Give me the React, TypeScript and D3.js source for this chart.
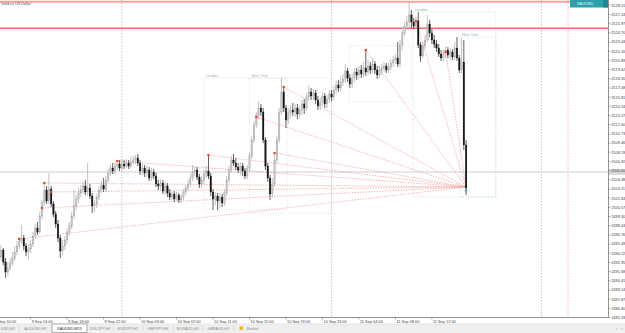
import React from "react";
import * as d3 from "d3";

const firstOpen = 2493.7;
const closes = [
  2494.66, 2493.01, 2491.62, 2492.18, 2492.87, 2493.56, 2494.39, 2495.22, 2495.91, 2496.32,
  2495.22, 2494.39, 2494.8, 2495.49, 2496.6, 2497.71, 2497.15, 2499.37, 2501.17, 2502.96,
  2501.44, 2503.1, 2501.03, 2499.64, 2498.26, 2496.32, 2494.53, 2495.22, 2496.05, 2497.15,
  2497.98, 2499.37, 2500.75, 2501.72, 2502.55, 2502.96, 2503.52, 2502.69, 2503.24, 2502.13,
  2500.75, 2501.03, 2501.99, 2502.96, 2503.65, 2503.1, 2504.35, 2505.31, 2506.01, 2505.59,
  2506.28, 2506.56, 2506.01, 2506.56, 2506.28, 2506.7, 2506.28, 2506.84, 2507.11, 2507.39,
  2506.7, 2505.59, 2506.01, 2505.31, 2505.73, 2504.62, 2505.45, 2504.9, 2503.79, 2503.52,
  2503.93, 2502.82, 2503.52, 2502.55, 2501.99, 2502.41, 2501.72, 2502.27, 2501.58, 2501.99,
  2502.69, 2503.24, 2503.79, 2504.62, 2505.45, 2505.73, 2504.76, 2503.79, 2504.35, 2505.18,
  2505.59, 2504.9, 2502.69, 2501.72, 2502.13, 2501.44, 2501.99, 2501.17, 2502.55, 2504.35,
  2505.73, 2507.11, 2506.7, 2506.14, 2505.73, 2506.28, 2505.59, 2504.9, 2506.01, 2507.67,
  2509.88, 2511.95, 2513.34, 2514.3, 2513.75, 2509.88, 2506.28, 2504.62, 2502.41, 2503.79,
  2507.11, 2509.88, 2513.75, 2516.52, 2514.3, 2512.64, 2513.61, 2514.03, 2513.75, 2514.3,
  2513.47, 2514.03, 2514.86, 2514.3, 2515.82, 2516.52, 2515.96, 2516.38, 2515.41, 2514.58,
  2515.13, 2515.96, 2514.86, 2515.55, 2516.24, 2515.82, 2516.79, 2517.48, 2517.07, 2517.9,
  2518.31, 2519.42, 2518.45, 2517.62, 2518.45, 2519.28, 2518.87, 2519.56, 2519.01, 2519.84,
  2519.28, 2520.11, 2519.56, 2520.39, 2519.56, 2518.87, 2519.56, 2519.84, 2520.11, 2519.56,
  2519.97, 2520.53, 2520.94, 2521.22, 2520.39, 2523.02, 2524.68, 2525.64, 2526.2, 2527.17,
  2526.2, 2525.64, 2526.34, 2523.02, 2521.5, 2522.88, 2523.71, 2525.92, 2524.68, 2523.71,
  2523.15, 2522.6, 2521.77, 2521.22, 2521.91, 2522.32, 2521.63, 2522.05, 2521.36, 2522.6,
  2521.22, 2519.56, 2520.67, 2509.19, 2503.24,
];
const highs = [
  2495.36, 2494.94, 2493.56, 2493.01, 2493.56, 2494.39, 2495.22, 2495.91, 2496.46, 2498.12,
  2496.74, 2495.63, 2495.36, 2496.05, 2497.15, 2498.26, 2498.54, 2499.92, 2501.58, 2503.93,
  2503.52, 2505.31, 2503.52, 2501.44, 2500.06, 2498.81, 2496.74, 2496.05, 2496.6, 2497.71,
  2498.54, 2499.92, 2502.96, 2502.27, 2503.24, 2503.65, 2504.07, 2504.35, 2506.7, 2503.79,
  2502.55, 2501.58, 2502.41, 2503.52, 2504.21, 2504.62, 2504.9, 2505.87, 2506.56, 2506.7,
  2506.84, 2506.97, 2507.11, 2507.25, 2507.11, 2507.25, 2507.11, 2507.53, 2507.67, 2507.8,
  2507.94, 2507.11, 2506.56, 2506.42, 2506.28, 2506.14, 2506.01, 2505.87, 2505.31, 2504.35,
  2504.48, 2504.35, 2504.07, 2503.93, 2503.1, 2502.82, 2502.82, 2502.69, 2502.55, 2502.41,
  2503.1, 2503.65, 2504.35, 2505.18, 2506.42, 2506.28, 2506.14, 2505.18, 2504.9, 2505.73,
  2506.28, 2507.8, 2505.31, 2503.1, 2502.69, 2502.55, 2502.55, 2502.41, 2502.96, 2504.9,
  2506.28, 2507.67, 2507.94, 2507.39, 2506.7, 2506.84, 2506.7, 2506.01, 2506.42, 2508.22,
  2510.43, 2512.51, 2513.75, 2515.27, 2514.86, 2514.3, 2510.29, 2506.7, 2505.04, 2504.62,
  2508.08, 2510.43, 2514.3, 2518.45, 2517.21, 2514.72, 2514.3, 2514.72, 2515.0, 2514.86,
  2514.86, 2514.58, 2515.41, 2515.55, 2516.38, 2517.48, 2517.07, 2516.93, 2516.79, 2515.96,
  2515.69, 2516.52, 2516.38, 2516.1, 2516.79, 2516.79, 2517.35, 2518.04, 2518.18, 2518.73,
  2519.01, 2520.39, 2519.84, 2519.01, 2519.01, 2519.84, 2519.84, 2520.11, 2520.25, 2520.67,
  2522.32, 2520.94, 2520.67, 2521.22, 2520.8, 2520.11, 2520.11, 2520.39, 2520.67, 2520.53,
  2520.53, 2521.08, 2521.5, 2521.77, 2523.43, 2523.71, 2525.09, 2526.2, 2527.03, 2528.96,
  2527.86, 2526.75, 2526.89, 2527.58, 2523.43, 2523.43, 2524.4, 2527.17, 2526.47, 2525.23,
  2524.4, 2523.71, 2523.15, 2522.32, 2522.32, 2522.88, 2522.74, 2522.6, 2522.46, 2523.43,
  2524.12, 2521.63, 2523.98, 2523.71, 2509.88,
];
const lows = [
  2493.28, 2492.59, 2490.79, 2491.07, 2491.76, 2492.45, 2493.14, 2493.97, 2494.8, 2495.49,
  2494.66, 2493.84, 2493.28, 2494.25, 2495.08, 2496.19, 2496.74, 2496.88, 2498.95, 2500.75,
  2501.03, 2501.03, 2500.61, 2499.23, 2497.71, 2495.77, 2493.56, 2493.97, 2494.66, 2495.49,
  2496.6, 2497.57, 2498.95, 2500.2, 2501.17, 2501.99, 2502.41, 2502.27, 2502.13, 2501.72,
  2499.78, 2499.92, 2500.47, 2501.58, 2502.55, 2502.69, 2502.69, 2503.93, 2504.9, 2505.18,
  2505.18, 2505.73, 2505.59, 2505.59, 2505.87, 2506.01, 2505.87, 2506.01, 2506.42, 2506.56,
  2506.28, 2505.04, 2505.04, 2504.76, 2504.9, 2504.21, 2504.21, 2504.48, 2503.38, 2502.96,
  2502.96, 2502.41, 2502.27, 2501.99, 2501.58, 2501.58, 2501.3, 2501.44, 2501.17, 2501.17,
  2501.58, 2502.27, 2502.82, 2503.38, 2504.21, 2504.9, 2504.35, 2503.24, 2503.24, 2503.79,
  2504.62, 2504.48, 2502.13, 2500.2, 2500.89, 2500.2, 2500.47, 2500.61, 2500.75, 2502.13,
  2503.93, 2505.31, 2506.28, 2505.73, 2505.31, 2505.04, 2504.9, 2504.48, 2504.48, 2505.59,
  2507.25, 2509.46, 2511.54, 2512.78, 2513.2, 2509.46, 2505.73, 2504.07, 2501.58, 2501.99,
  2503.38, 2506.7, 2509.46, 2513.34, 2513.75, 2511.54, 2512.09, 2512.92, 2513.2, 2513.06,
  2512.78, 2512.92, 2513.34, 2513.47, 2513.89, 2515.41, 2515.41, 2515.41, 2514.86, 2514.03,
  2514.03, 2514.58, 2514.3, 2514.3, 2515.0, 2515.27, 2515.41, 2516.24, 2516.52, 2516.65,
  2517.35, 2517.76, 2517.9, 2517.07, 2517.07, 2517.9, 2518.18, 2518.31, 2518.45, 2518.59,
  2518.73, 2518.87, 2519.01, 2519.14, 2519.01, 2518.31, 2518.45, 2518.87, 2519.28, 2519.14,
  2519.14, 2519.56, 2519.97, 2520.39, 2519.97, 2519.97, 2522.32, 2524.26, 2525.09, 2525.37,
  2525.37, 2525.23, 2525.37, 2522.6, 2520.67, 2521.22, 2522.46, 2523.43, 2524.12, 2523.15,
  2522.6, 2522.05, 2521.36, 2520.8, 2520.8, 2521.22, 2521.22, 2520.94, 2520.94, 2520.94,
  2520.8, 2519.14, 2519.01, 2508.49, 2502.27,
];

const priceTicks = [
  2528.51, 2527.24, 2525.97, 2524.7, 2523.43, 2522.16, 2520.89, 2519.62, 2518.35, 2517.08,
  2515.81, 2514.54, 2513.27, 2512.0, 2510.73, 2509.46, 2508.19, 2506.92, 2505.65, 2504.38,
  2503.11, 2501.84, 2500.57, 2499.3, 2498.03, 2496.76, 2495.49, 2494.22, 2492.95, 2491.68,
  2490.41, 2489.14, 2487.87, 2486.6, 2485.33,
];
const timeLabels = [
  "9 Sep 10:00", "9 Sep 14:00", "9 Sep 18:00", "9 Sep 22:00", "10 Sep 03:00", "10 Sep 07:00",
  "10 Sep 11:00", "10 Sep 15:00", "10 Sep 19:00", "10 Sep 23:00", "11 Sep 04:00", "11 Sep 08:00",
  "11 Sep 12:00",
];
const timeLabelBars = [-3, 13, 29, 45, 61, 77, 93, 109, 125, 141, 157, 173, 189];

const swingBars = [8, 18, 19, 22, 51, 91, 112, 120, 124, 160, 182, 195];
const swingPrices = [
  2496.19, 2500.47, 2503.93, 2502.69, 2506.97, 2507.8, 2513.06, 2508.08, 2517.21, 2522.32,
  2526.34, 2522.05,
];
const fanTargetBar = 204;
const fanTargetPrice = 2503.38;

const sessionNames = ["London", "New York", "London", "New York"];
const sessionStartBars = [89, 109, 180.7, 201.3];
const sessionEndBars = [125.5, 145, 217, 217];
const sessionHighs = [2518.45, 2518.45, 2527.58, 2524.12];
const sessionLows = [2500.2, 2499.78, 2501.99, 2501.99];
const asiaBoxBars = [152.6, 179.8];
const asiaBoxPrices = [2522.88, 2515.13];

const separatorBars = [53, 145, 237];
const redVLineBar = 248.7;
const redLevels = [2529.0, 2525.33];
const greyLevel = 2505.45;

const tabNames = ["USD,H1", "AUDUSD,H1", "XAUUSD,M15", "USDJPY,H4", "EURJPY,H1", "GBPJPY,H4", "EURAUD,H1", "GBPAUD,H1"];
const activeTab = "XAUUSD,M15";
const symbolLabel = "XAUUSD";
const chartTitle = "Gold vs US Dollar";

// layout
const W = 625;
const H = 333;
const PR = 608;
const PB = 317;
const FONT = "'Liberation Sans', Arial, sans-serif";
const tabEdges = [-3, 19, 52, 87, 113, 143, 173, 203, 234];

export default function App() {
  const x = d3.scaleLinear().domain([0, 204]).range([1, 1 + 204 * 2.28]);
  const y = d3.scaleLinear().domain([2485.4, 2529.24]).range([PB, 0]);
  const opens = closes.map((c, i) => (i === 0 ? firstOpen : closes[i - 1]));
  const bodyW = 1.5;
  const fmt = d3.format(".2f");

  return (
    <div style={{ position: "fixed", left: 0, top: 0, width: W, height: H, background: "#fff" }}>
      <svg width={W} height={H} style={{ display: "block", fontFamily: FONT }}>
        <defs>
          <clipPath id="plot">
            <rect x={0} y={0} width={PR} height={PB} />
          </clipPath>
        </defs>
        <rect x={0} y={0} width={W} height={H} fill="#fff" />
        <g clipPath="url(#plot)">
          {separatorBars.map((b, i) => (
            <line key={"sep" + i} x1={x(b)} x2={x(b)} y1={0} y2={PB} stroke="#b8b8b8" strokeWidth={0.8} strokeDasharray="1.5,1.5" />
          ))}
          <line x1={x(redVLineBar)} x2={x(redVLineBar)} y1={0} y2={PB} stroke="#f2a8a8" strokeWidth={0.8} strokeDasharray="1.5,1.5" />
          <rect
            x={x(asiaBoxBars[0])}
            y={y(asiaBoxPrices[0])}
            width={x(asiaBoxBars[1]) - x(asiaBoxBars[0])}
            height={y(asiaBoxPrices[1]) - y(asiaBoxPrices[0])}
            fill="none"
            stroke="#dedede"
            strokeWidth={0.7}
            strokeDasharray="1,1.5"
          />
          {sessionNames.map((n, i) => {
            const x0 = x(sessionStartBars[i]);
            const x1 = x(sessionEndBars[i]);
            const y0 = y(sessionHighs[i]);
            const y1 = y(sessionLows[i]);
            const lon = n === "London";
            const col = i < 2 ? "#d4d4d4" : lon ? "#bcdcbc" : "#bcd6ea";
            return (
              <g key={"ses" + i}>
                <rect x={x0} y={y0} width={x1 - x0} height={y1 - y0} fill="none" stroke={col} strokeWidth={0.7} strokeDasharray="1,1.5" />
                <text x={x0 + 2} y={y0 - 1.5} fontSize={3.8} fill={i < 2 ? "#b5b5b5" : lon ? "#8cc78c" : "#8fb8d8"}>
                  {n}
                </text>
              </g>
            );
          })}
          <line x1={0} x2={PR} y1={y(greyLevel)} y2={y(greyLevel)} stroke="#d0d0d0" strokeWidth={1} />
          {redLevels.map((p, i) => (
            <line key={"rl" + i} x1={0} x2={PR} y1={y(p)} y2={y(p)} stroke={i === 0 ? "#f7a0a0" : "#f26a6a"} strokeWidth={i === 0 ? 2 : 1.6} />
          ))}
          {swingBars.map((b, i) => (
            <line
              key={"fan" + i}
              x1={x(b)}
              y1={y(swingPrices[i])}
              x2={x(fanTargetBar)}
              y2={y(fanTargetPrice)}
              stroke="#f29a9a"
              strokeWidth={0.7}
              strokeDasharray="1.5,1.2"
            />
          ))}
          {closes.map((c, i) => {
            const o = opens[i];
            const bull = c >= o;
            const hi = Math.max(highs[i], o, c);
            const lo = Math.min(lows[i], o, c);
            const cx = x(i);
            const top = y(Math.max(o, c));
            const bh = Math.max(0.8, y(Math.min(o, c)) - top);
            return (
              <g key={"c" + i}>
                <line x1={cx} x2={cx} y1={y(hi)} y2={y(lo)} stroke={bull ? "#a8a8a8" : "#1c1c1c"} strokeWidth={0.7} />
                <rect x={cx - bodyW / 2} y={top} width={bodyW} height={bh} fill={bull ? "#c6c6c6" : "#141414"} stroke={bull ? "#9e9e9e" : "#141414"} strokeWidth={0.3} />
              </g>
            );
          })}
          {swingBars.map((b, i) => (
            <circle key={"dot" + i} cx={x(b)} cy={y(swingPrices[i])} r={1.3} fill="#f0452a" />
          ))}
          <rect x={x(fanTargetBar) - 1.2} y={y(fanTargetPrice) + 2.5} width={2.2} height={2.2} fill="#3aa3c4" />
        </g>

        <text x={1} y={4.5} fontSize={3.8} fill="#555">
          {chartTitle}
        </text>

        <rect x={570} y={0} width={38} height={7.5} fill="#2aa0a8" />
        <rect x={603} y={0} width={5} height={7.5} fill="#1f8990" />
        <text x={585} y={5.3} fontSize={4} fill="#e8f6f6" textAnchor="middle">
          {symbolLabel}
        </text>

        <line x1={PR + 0.5} x2={PR + 0.5} y1={0} y2={PB} stroke="#777" strokeWidth={0.8} />
        <line x1={0} x2={PR + 0.5} y1={PB + 0.5} y2={PB + 0.5} stroke="#777" strokeWidth={0.8} />

        <rect x={PR + 1} y={y(greyLevel) - 2.8} width={W - PR - 1} height={5.6} fill="#d6d6d6" />
        {priceTicks.map((p, i) => (
          <g key={"pt" + i}>
            <line x1={PR} x2={PR + 2.5} y1={y(p)} y2={y(p)} stroke="#777" strokeWidth={0.6} />
            <text x={PR + 3.2} y={y(p) + 1.4} fontSize={3.9} fill="#444">
              {fmt(p)}
            </text>
          </g>
        ))}

        {timeLabels.map((t, i) => {
          const tx = x(timeLabelBars[i]);
          return (
            <g key={"tl" + i}>
              <line x1={tx} x2={tx} y1={PB} y2={PB + 2.5} stroke="#777" strokeWidth={0.6} />
              <text x={tx + 1} y={PB + 5.8} fontSize={3.9} fill="#444">
                {t}
              </text>
            </g>
          );
        })}

        <rect x={0} y={324} width={W} height={H - 324} fill="#efefef" />
        <line x1={0} x2={W} y1={324} y2={324} stroke="#d8d8d8" strokeWidth={0.6} />
        {tabNames.map((n, i) => {
          const left = tabEdges[i];
          const right = tabEdges[i + 1];
          const active = n === activeTab;
          return (
            <g key={"tt" + i}>
              {active ? <rect x={left} y={324} width={right - left} height={8.6} fill="#fff" stroke="#7a7a7a" strokeWidth={0.6} /> : null}
              <text x={(left + right) / 2} y={330} fontSize={3.9} fill={active ? "#222" : "#8c8c8c"} textAnchor="middle">
                {n}
              </text>
              {!active ? <line x1={right} x2={right} y1={325.5} y2={331} stroke="#c4c4c4" strokeWidth={0.5} /> : null}
            </g>
          );
        })}
        <rect x={239.5} y={326.3} width={3.6} height={3.6} fill="#f2b824" />
        <text x={246.5} y={330} fontSize={3.9} fill="#8c8c8c">
          Market
        </text>
        <text x={616} y={330} fontSize={4.5} fill="#999">
          ‹
        </text>
        <text x={621.5} y={330} fontSize={4.5} fill="#999">
          ›
        </text>
      </svg>
    </div>
  );
}
